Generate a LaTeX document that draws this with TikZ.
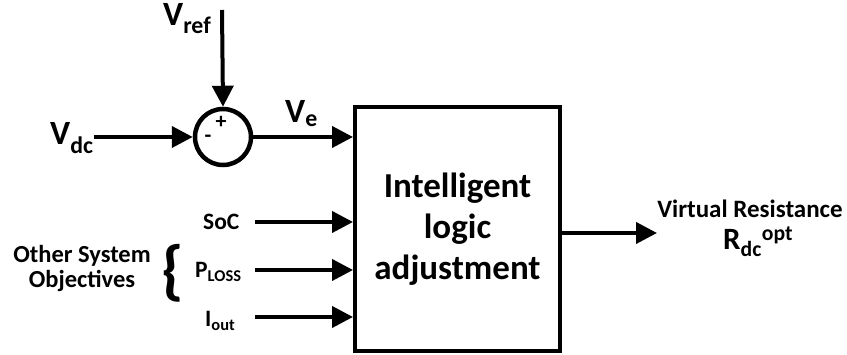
\documentclass[tikz,border=0pt]{standalone}
\usepackage{fontspec}
\setmainfont{Carlito}
\usetikzlibrary{arrows.meta}

\tikzset{
    sig/.style={line width=4pt,-{Triangle[length=21pt,width=21pt]}},
    lbl/.style={inner sep=0pt,font=\bfseries\fontsize{34}{40}\selectfont},
    small/.style={inner sep=0pt,font=\bfseries\fontsize{23.5}{25}\selectfont}
}

\begin{document}
\begin{tikzpicture}[x=1pt,y=-1pt]
        % Page frame
        \useasboundingbox (0,0) rectangle (847,355);
        % Draw summing junction
        \node[circle,draw,line width=4.5pt,minimum size=56pt,inner sep=0pt] (sum) at (223,137) {};
        \node[inner sep=0pt,font=\bfseries\fontsize{22}{22}\selectfont] (plus) at (221,122) {+};
        \node[inner sep=0pt,font=\bfseries\fontsize{22}{22}\selectfont] (minus) at (208,139) {-};
        % Draw main block
        \node[draw,line width=4pt,minimum width=205pt,minimum height=244pt,align=center,
              font=\bfseries\fontsize{35}{41}\selectfont] (logic) at (457.5,229)
              {Intelligent\\logic\\adjustment};
        % Draw input labels
        \node[lbl,anchor=base west] (vdc) at (50,145) {V\textsubscript{dc}};
        \node[lbl,anchor=base west] (vref) at (163,26) {V\textsubscript{ref}};
        \node[lbl,anchor=base west] (ve) at (285,123) {V\textsubscript{e}};
        \node[small,anchor=base west] (soc) at (203,230) {SoC};
        \node[small,anchor=base west] (ploss) at (195,278) {P\textsubscript{LOSS}};
        \node[small,anchor=base west] (iout) at (205,327) {I\textsubscript{out}};
        % Draw objectives group
        \node[inner sep=0pt,align=center,font=\bfseries\fontsize{24.5}{25}\selectfont] (obj) at (82,268)
              {Other System\\Objectives};
        \node[inner sep=0pt,font=\bfseries\fontsize{66}{66}\selectfont] (brace) at (173,273) {\{};
        % Draw output label
        \node[inner sep=0pt,anchor=base,font=\bfseries\fontsize{25}{30}\selectfont] (virt) at (750,218)
              {Virtual Resistance};
        \node[inner sep=0pt,anchor=base west,font=\bfseries\fontsize{31}{31}\selectfont] (rdc) at (723,250)
              {R\textsubscript{dc}\textsuperscript{opt}};
        % Arrow ends
        \coordinate (reftop) at (222,10);
        \coordinate (socin) at (255,222);
        \coordinate (plossin) at (255,270);
        \coordinate (ioutin) at (255,317);
        \coordinate (rout) at (657,233);
        % Draw signal arrows
        \draw[sig] (reftop) -- (sum.north);
        \draw[sig] (sum.west -| vdc.east) -- (sum.west);
        \draw[sig] (sum.east) -- (sum.east -| logic.west);
        \draw[sig] (socin) -- (socin -| logic.west);
        \draw[sig] (plossin) -- (plossin -| logic.west);
        \draw[sig] (ioutin) -- (ioutin -| logic.west);
        \draw[sig] (rout -| logic.east) -- (rout);
\end{tikzpicture}
\end{document}
